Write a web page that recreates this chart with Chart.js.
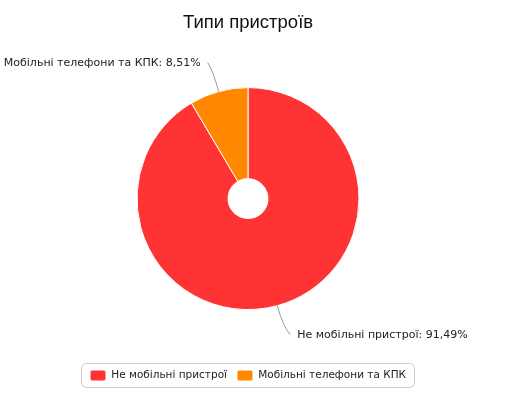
<!DOCTYPE html>
<html>
<head>
<meta charset="utf-8">
<script src="https://cdn.jsdelivr.net/npm/chart.js@4"></script>
<style>
  html, body { margin: 0; padding: 0; background: #fff; }
  #wrap { width: 509px; height: 409px; }
</style>
</head>
<body>
<div id="wrap"><canvas id="devices"></canvas></div>
<script>
const categories = ["Не мобільні пристрої", "Мобільні телефони та КПК"];
const shares = [91.49, 8.51];
const colors = ["#ff3333", "#ff8800"];

// leader lines + "name: value%" labels outside the slices
const outsideLabels = {
  id: "outsideLabels",
  afterDatasetsDraw(chart) {
    const ctx = chart.ctx;
    const arcs = chart.getDatasetMeta(0).data;
    ctx.save();
    ctx.font = "11px 'DejaVu Sans'";
    ctx.textBaseline = "middle";
    arcs.forEach((arc, i) => {
      const mid = (arc.startAngle + arc.endAngle) / 2;
      const cx = Math.cos(mid), cy = Math.sin(mid);
      const r = arc.outerRadius;
      const sx = arc.x + cx * r, sy = arc.y + cy * r;
      const kx = arc.x + cx * (r + 22), ky = arc.y + cy * (r + 22);
      const side = cx < 0 ? -1 : 1;
      const ex = arc.x + cx * (r + 30) + (side < 0 ? -3 : 5), ey = arc.y + cy * (r + 30);
      ctx.strokeStyle = "#999";
      ctx.lineWidth = 1;
      ctx.beginPath();
      ctx.moveTo(sx, sy);
      ctx.quadraticCurveTo(kx, ky, ex, ey);
      ctx.stroke();
      const text = categories[i] + ": " + shares[i].toFixed(2).replace(".", ",") + "%";
      ctx.fillStyle = "#222";
      ctx.textAlign = side < 0 ? "right" : "left";
      ctx.fillText(text, ex + side * 7, ey + 1);
    });
    ctx.restore();
  },
  afterDraw(chart) {
    // rounded frame around the legend
    const boxes = chart.legend.legendHitBoxes;
    if (!boxes || !boxes.length) return;
    let l = Infinity, r = -Infinity, t = Infinity, b = -Infinity;
    boxes.forEach((h) => {
      l = Math.min(l, h.left); r = Math.max(r, h.left + h.width);
      t = Math.min(t, h.top); b = Math.max(b, h.top + h.height);
    });
    const ctx = chart.ctx;
    ctx.save();
    ctx.strokeStyle = "#cccccc";
    ctx.lineWidth = 1;
    ctx.beginPath();
    ctx.roundRect(l - 8.5, t - 6.5, r - l + 17, b - t + 13, 5);
    ctx.stroke();
    ctx.restore();
  },
};

new Chart(document.getElementById("devices"), {
  type: "doughnut",
  data: {
    labels: categories,
    datasets: [
      {
        data: shares,
        backgroundColor: colors,
        borderColor: "#ffffff",
        borderWidth: 1,
        radius: 111,
        cutout: "18%",
      },
    ],
  },
  options: {
    responsive: true,
    maintainAspectRatio: false,
    animation: false,
    layout: { padding: { left: 0, right: 13, top: 0, bottom: 18 } },
    plugins: {
      title: {
        display: true,
        text: "Типи пристроїв",
        color: "#111",
        font: { family: "'Liberation Sans', Arial", size: 18.5, weight: "normal" },
        padding: { top: 12, bottom: 3 },
      },
      legend: {
        display: true,
        position: "bottom",
        labels: {
          color: "#222",
          font: { family: "'DejaVu Sans'", size: 10.5 },
          boxWidth: 16,
          boxHeight: 11,
          useBorderRadius: true,
          borderRadius: 2,
          padding: 10,
        },
      },
      tooltip: { enabled: false },
    },
  },
  plugins: [outsideLabels],
});
</script>
</body>
</html>
